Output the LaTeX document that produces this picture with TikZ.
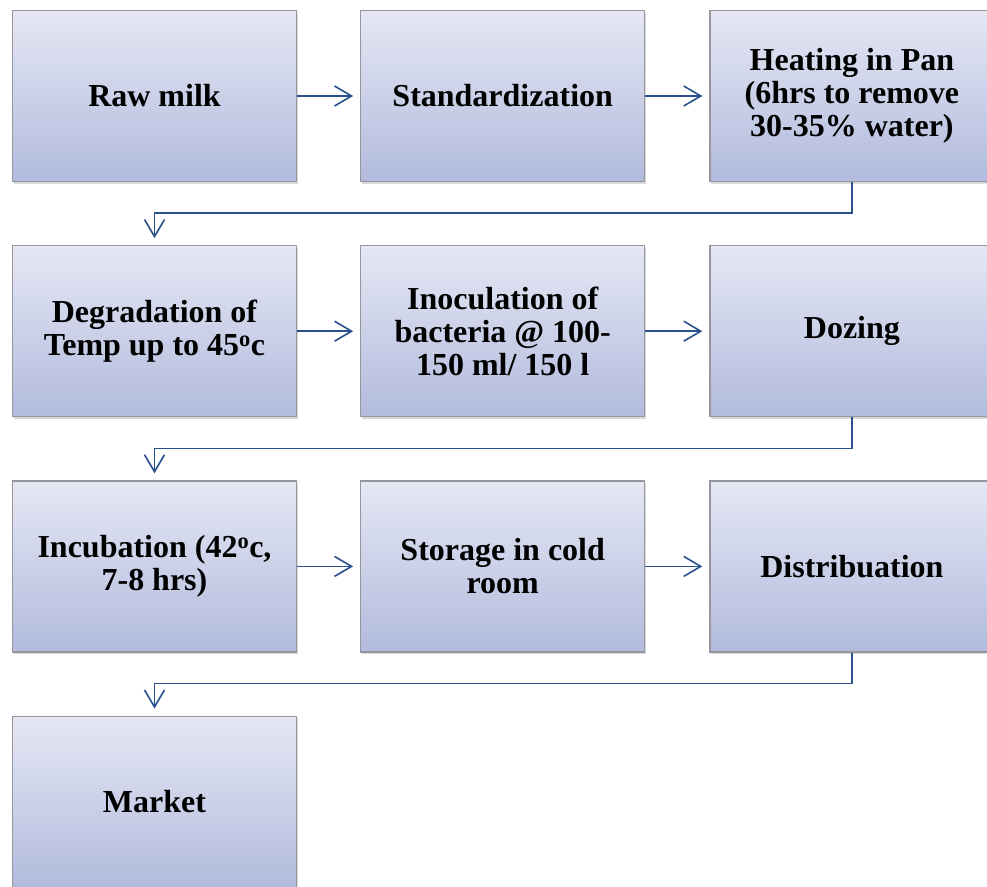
\documentclass[tikz,border=0pt]{standalone}
\usepackage{fontspec}
\setmainfont{Liberation Serif}
\usetikzlibrary{positioning,arrows.meta,shadows}
\definecolor{boxtop}{RGB}{229,231,244}
\definecolor{boxbot}{RGB}{178,187,221}
\definecolor{boxedge}{RGB}{150,150,156}
\definecolor{flow}{RGB}{40,80,140}

\begin{document}
\begin{tikzpicture}[x=1pt,y=-1pt,
  every node/.style={font=\fontsize{32}{33}\selectfont\bfseries},
  proc/.style={draw=boxedge,line width=1.2pt,top color=boxtop,bottom color=boxbot,align=center,minimum width=284pt,minimum height=171pt,inner sep=2pt,
    drop shadow={shadow xshift=1.5pt,shadow yshift=-2pt,fill=black!30}},
  arrow/.style={-{Straight Barb[length=17pt,width=20pt]},line width=1.6pt,draw=flow,shorten >=7pt}
]
  \path[use as bounding box,clip] (0,0) rectangle (987,886);
  % row 1
  \node[proc] (raw) at (154.5,96) {Raw milk};
  \node[proc,right=63pt of raw] (stand) {Standardization};
  \node[proc,right=64pt of stand] (heat) {Heating in Pan\\(6hrs to remove\\30-35\% water)};
  % row 2
  \node[proc,below=63pt of raw] (degr) {Degradation of\\Temp up to 45\textsuperscript{o}c};
  \node[proc,right=63pt of degr] (inoc) {Inoculation of\\bacteria @ 100-\\150 ml/ 150 l};
  \node[proc,right=64pt of inoc] (doz) {Dozing};
  % row 3
  \node[proc,below=63pt of degr] (incub) {Incubation (42\textsuperscript{o}c,\\7-8 hrs)};
  \node[proc,right=63pt of incub] (stor) {Storage in cold\\room};
  \node[proc,right=64pt of stor] (distr) {Distribuation};
  % row 4
  \node[proc,below=63pt of incub] (market) {Market};
  \foreach \a/\b in {raw/stand,stand/heat,degr/inoc,inoc/doz,incub/stor,stor/distr}
    \draw[arrow] (\a) -- (\b);
  \draw[arrow] (heat.south) -- ++(0,31) -| (degr.north);
  \draw[arrow] (doz.south) -- ++(0,31) -| (incub.north);
  \draw[arrow] (distr.south) -- ++(0,31) -| (market.north);
\end{tikzpicture}
\end{document}
